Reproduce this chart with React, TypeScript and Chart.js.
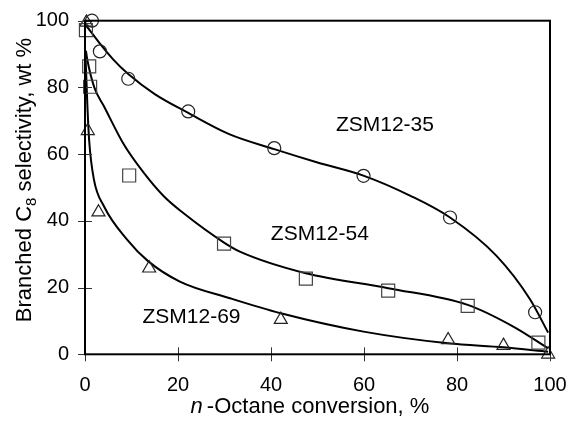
import React, { useEffect, useRef } from "react";
import { Chart, registerables } from "chart.js";

Chart.register(...registerables);

const FONT = "'Liberation Sans', Arial, sans-serif";

// Axis ticks
const xTicks = [0, 20, 40, 60, 80, 100];
const yTicks = [0, 20, 40, 60, 80, 100];

// Series names
const seriesNames = ["ZSM12-35", "ZSM12-54", "ZSM12-69"];

// Measured points
const zsm35X = [1.5, 3.2, 9.3, 22.2, 40.7, 59.9, 78.5, 96.8];
const zsm35Y = [100, 90.8, 82.6, 72.8, 61.8, 53.5, 41, 12.6];

const zsm54X = [0.2, 0.9, 1.1, 9.5, 29.9, 47.5, 65.2, 82.3, 97.5];
const zsm54Y = [97.2, 86.3, 80.2, 53.6, 33.2, 22.7, 19.1, 14.5, 3.5];

const zsm69X = [0.3, 0.6, 2.9, 13.8, 42.1, 78.1, 90, 99.6];
const zsm69Y = [99.5, 67, 42.6, 25.8, 10.4, 4.3, 2.6, 0];

// Fitted curves
const fit35X = [0, 3, 6, 9.3, 15, 22, 31, 40.7, 50, 60, 70, 78.5, 88.5, 95.7, 99.6];
const fit35Y = [99, 93.5, 88.5, 84, 78, 72.5, 66, 61.5, 57.5, 53.5, 47.5, 41, 29.5, 16.5, 6.5];

const fit54X = [0.2, 0.5, 2, 4.1, 8.4, 12.7, 17, 21, 29.9, 33.3, 47.5, 65.2, 82.3, 92.1, 99.6];
const fit54Y = [91, 88.3, 80, 74.3, 62.8, 54.3, 47.3, 42.5, 33.5, 30.8, 24.3, 19.8, 14.8, 8.3, 1.8];

const fit69X = [0.1, 0.5, 0.9, 1.9, 4.1, 9.1, 13.5, 20.4, 31.2, 42.1, 59.9, 78.1, 90, 99.6];
const fit69Y = [90, 75, 64, 52.5, 44.3, 34.3, 28, 21.8, 16.8, 12.3, 6.8, 3.3, 2.1, 0.8];

const pts = (xs: number[], ys: number[]) => xs.map((x, i) => ({ x, y: ys[i] }));

// annotation anchors in data units
const labelAnchors = [
  { x: 64.5, y: 68.8 },
  { x: 50.5, y: 35.9 },
  { x: 22.9, y: 11 },
];

const framePlugin = {
  id: "frame",
  afterDraw(chart: any) {
    const { ctx, chartArea: a, scales } = chart;
    const xs = scales.x;
    const ys = scales.y;
    ctx.save();
    // tick marks crossing the axes
    ctx.strokeStyle = "#333";
    ctx.lineWidth = 1;
    ctx.beginPath();
    xs.ticks.forEach((t: any) => {
      const px = Math.round(xs.getPixelForValue(t.value)) + 0.5;
      ctx.moveTo(px, a.bottom - 7);
      ctx.lineTo(px, a.bottom + 7);
    });
    ys.ticks.forEach((t: any) => {
      const py = Math.round(ys.getPixelForValue(t.value)) + 0.5;
      ctx.moveTo(a.left - 7, py);
      ctx.lineTo(a.left + 7, py);
    });
    ctx.stroke();
    // frame
    ctx.strokeStyle = "#000";
    ctx.lineWidth = 2;
    ctx.strokeRect(a.left, a.top, a.right - a.left, a.bottom - a.top);

    // series annotations
    ctx.fillStyle = "#000";
    ctx.font = `21px ${FONT}`;
    ctx.textAlign = "center";
    ctx.textBaseline = "middle";
    seriesNames.forEach((name, i) => {
      const p = labelAnchors[i];
      ctx.fillText(name, xs.getPixelForValue(p.x), ys.getPixelForValue(p.y));
    });

    // x title
    ctx.textAlign = "left";
    ctx.textBaseline = "alphabetic";
    const fItal = `italic 22px ${FONT}`;
    const fReg = `22px ${FONT}`;
    const p1 = "n";
    const p2 = "-Octane conversion, %";
    ctx.font = fItal;
    const w1 = ctx.measureText(p1).width;
    ctx.font = fReg;
    const w2 = ctx.measureText(p2).width;
    const gap = 4;
    const total = w1 + gap + w2;
    const cx = 310;
    const by = 413;
    const sx = cx - total / 2;
    ctx.font = fItal;
    ctx.fillText(p1, sx, by);
    ctx.font = fReg;
    ctx.fillText(p2, sx + w1 + gap, by);

    // y title (rotated)
    ctx.save();
    ctx.translate(31, 180);
    ctx.rotate(-Math.PI / 2);
    const q1 = "Branched C";
    const q2 = "8";
    const q3 = " selectivity, wt %";
    const fBig = `22px ${FONT}`;
    const fSub = `15px ${FONT}`;
    ctx.font = fBig;
    const v1 = ctx.measureText(q1).width;
    const v3 = ctx.measureText(q3).width;
    ctx.font = fSub;
    const v2 = ctx.measureText(q2).width;
    const tot = v1 + v2 + v3;
    let tx = -tot / 2;
    ctx.font = fBig;
    ctx.fillText(q1, tx, 0);
    tx += v1;
    ctx.font = fSub;
    ctx.fillText(q2, tx, 5);
    tx += v2;
    ctx.font = fBig;
    ctx.fillText(q3, tx, 0);
    ctx.restore();

    ctx.restore();
  },
};

const zeroPad = (s: any) => {
  s.paddingLeft = 0;
  s.paddingRight = 0;
  s.paddingTop = 0;
  s.paddingBottom = 0;
};

export default function App() {
  const ref = useRef<HTMLCanvasElement | null>(null);

  useEffect(() => {
    if (!ref.current) return;
    const lineDs = (xs: number[], ys: number[]) => ({
      data: pts(xs, ys),
      showLine: true,
      pointRadius: 0,
      borderColor: "#000",
      borderWidth: 2,
      cubicInterpolationMode: "monotone" as const,
      clip: false as any,
      fill: false,
      order: 2,
    });
    const ptDs = (xs: number[], ys: number[], style: string, r: number, color: string) => ({
      data: pts(xs, ys),
      showLine: false,
      pointStyle: style as any,
      pointRadius: r,
      pointBorderColor: color,
      borderColor: color,
      pointBorderWidth: 1.2,
      pointBackgroundColor: "rgba(0,0,0,0)",
      backgroundColor: "rgba(0,0,0,0)",
      clip: false as any,
      order: 1,
    });
    const chart = new Chart(ref.current, {
      type: "scatter",
      data: {
        datasets: [
          lineDs(fit35X, fit35Y),
          lineDs(fit54X, fit54Y),
          lineDs(fit69X, fit69Y),
          { label: seriesNames[0], ...ptDs(zsm35X, zsm35Y, "circle", 6.5, "#222") },
          { label: seriesNames[1], ...ptDs(zsm54X, zsm54Y, "rect", 9.2, "#444") },
          { label: seriesNames[2], ...ptDs(zsm69X, zsm69Y, "triangle", 7.5, "#222") },
        ] as any,
      },
      options: {
        responsive: false,
        animation: false,
        layout: { padding: { left: 0, top: 20.7, right: 21, bottom: 0 } },
        plugins: {
          legend: { display: false },
          tooltip: { enabled: false },
          title: { display: false },
        },
        scales: {
          x: {
            type: "linear",
            min: 0,
            max: 100,
            afterBuildTicks: (s: any) => {
              s.ticks = xTicks.map((v) => ({ value: v }));
            },
            ticks: {
              stepSize: 20,
              color: "#000",
              font: { family: FONT, size: 20 },
              padding: 19,
              maxRotation: 0,
            },
            grid: { display: false, drawTicks: false },
            border: { display: false },
            afterFit: (s: any) => {
              s.height = 67.7;
              zeroPad(s);
            },
          },
          y: {
            type: "linear",
            min: 0,
            max: 100,
            afterBuildTicks: (s: any) => {
              s.ticks = yTicks.map((v) => ({ value: v }));
            },
            ticks: {
              stepSize: 20,
              color: "#000",
              font: { family: FONT, size: 20 },
              padding: 16,
            },
            grid: { display: false, drawTicks: false },
            border: { display: false },
            afterFit: (s: any) => {
              s.width = 85;
              zeroPad(s);
            },
          },
        },
      },
      plugins: [framePlugin],
    });
    return () => chart.destroy();
  }, []);

  return (
    <div style={{ position: "absolute", left: 0, top: 0, width: 571, height: 422 }}>
      <canvas ref={ref} width={571} height={422} style={{ display: "block" }} />
    </div>
  );
}
